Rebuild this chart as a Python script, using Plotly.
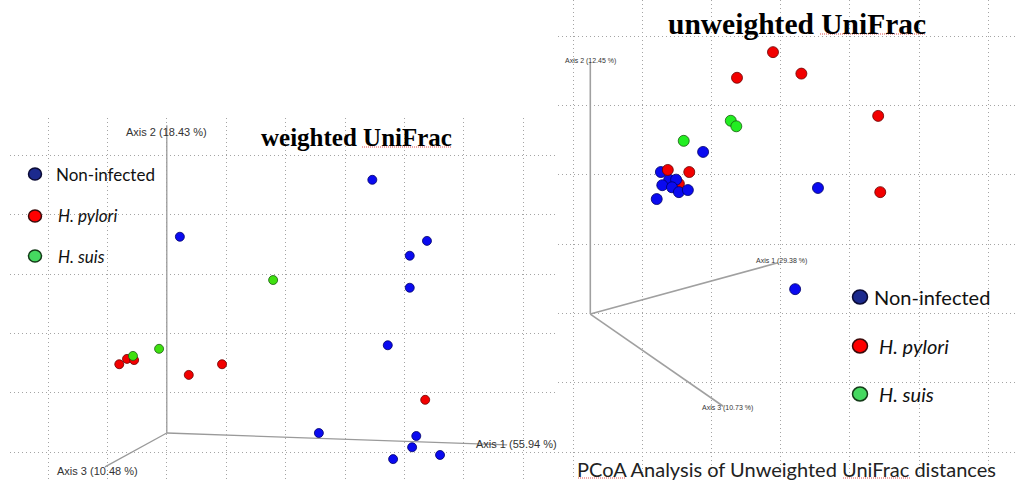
import plotly.graph_objects as go

W, H = 1016, 480

# ---------------- data (grid units of each panel) -------------
groups = ["Non-infected", "H. pylori", "H. suis"]

# weighted UniFrac (left panel)
w_blue_x = [5.46, 2.22, 6.38, 6.09, 6.09, 5.72, 4.56, 6.20, 6.13, 6.60, 5.81]
w_blue_y = [4.59, 3.63, 3.56, 3.31, 2.77, 1.80, 0.32, 0.27, 0.08, -0.05, -0.12]
w_red_x = [1.20, 1.33, 1.45, 2.37, 2.93, 6.35]
w_red_y = [1.48, 1.57, 1.55, 1.30, 1.48, 0.88]
w_green_x = [1.43, 1.87, 3.79]
w_green_y = [1.62, 1.74, 2.90]

# unweighted UniFrac (right panel)
u_blue_x = [1.88, 1.27, 1.39, 1.49, 1.29, 1.43, 1.53, 1.66, 1.21, 3.54, 3.21]
u_blue_y = [4.33, 4.04, 3.93, 3.93, 3.85, 3.82, 3.75, 3.78, 3.65, 3.81, 2.35]
u_red_back_x = [1.53]
u_red_back_y = [3.87]
u_red_x = [2.89, 2.37, 3.30, 4.41, 1.37, 1.68, 4.44]
u_red_y = [5.77, 5.40, 5.46, 4.85, 4.07, 4.04, 3.75]
u_green_x = [2.28, 2.36, 1.60]
u_green_y = [4.78, 4.70, 4.49]

# projected PCoA axes
w_axis_labels = ["Axis 1 (55.94 %)", "Axis 2 (18.43 %)", "Axis 3 (10.48 %)"]
w_origin = (2.00, 0.32)
w_axis_ends = [(7.73, 0.12), (2.00, 5.51), (0.96, -0.25)]
w_label_pos = [(7.88, 0.14), (2.00, 5.40), (0.83, -0.32)]

u_axis_labels = ["Axis 1 (29.38 %)", "Axis 2 (12.45 %)", "Axis 3 (10.73 %)"]
u_origin = (0.25, 1.99)
u_axis_ends = [(2.96, 2.73), (0.25, 5.63), (2.17, 0.66)]
u_label_pos = [(3.02, 2.76), (0.25, 5.64), (2.23, 0.64)]

titles = ["weighted UniFrac", "unweighted UniFrac"]
caption = "PCoA Analysis of Unweighted UniFrac distances"

# ---------------- styling -------------
C_BLUE, E_BLUE = "#0a0af0", "#00006a"
C_RED, E_RED = "#f20000", "#6a0000"
C_GREEN_L, C_GREEN_R, E_GREEN = "#3fe010", "#22ee22", "#1a5a10"
LEG = [("#1c2a8e", "#0b0b35"), ("#ff0000", "#3a0a0a"), ("#45d960", "#143a18")]


def px(x):
    return x / W


def py(y):
    return 1 - y / H


fig = go.Figure()


def pts(x, y, color, edge, size, xa, ya):
    fig.add_trace(go.Scatter(
        x=x, y=y, mode="markers", xaxis=xa, yaxis=ya, showlegend=False,
        hoverinfo="skip",
        marker=dict(size=size, color=color, line=dict(color=edge, width=0.8))))


def axes3d(origin, ends, labels, lpos, xa, ya, lw, fs, lc):
    for (ex, ey), lab, (lx, ly) in zip(ends, labels, lpos):
        fig.add_trace(go.Scatter(
            x=[origin[0], ex], y=[origin[1], ey], mode="lines", xaxis=xa, yaxis=ya,
            showlegend=False, hoverinfo="skip", line=dict(color=lc, width=lw)))
        fig.add_annotation(x=lx, y=ly, xref=xa, yref=ya, text=lab,
                           xanchor="center", yanchor="middle",
                           showarrow=False, font=dict(family="Liberation Sans", size=fs, color="#333333"))


# left panel
axes3d(w_origin, w_axis_ends, w_axis_labels, w_label_pos, "x", "y", 1.3, 11, "#9a9a9a")
pts(w_blue_x, w_blue_y, C_BLUE, E_BLUE, 9, "x", "y")
pts(w_red_x, w_red_y, C_RED, E_RED, 9, "x", "y")
pts(w_green_x, w_green_y, C_GREEN_L, E_GREEN, 9, "x", "y")

# right panel
axes3d(u_origin, u_axis_ends, u_axis_labels, u_label_pos, "x2", "y2", 1.6, 7, "#a0a0a0")
pts(u_red_back_x, u_red_back_y, C_RED, E_RED, 11, "x2", "y2")
pts(u_blue_x, u_blue_y, C_BLUE, E_BLUE, 11, "x2", "y2")
pts(u_red_x, u_red_y, C_RED, E_RED, 11, "x2", "y2")
pts(u_green_x, u_green_y, C_GREEN_R, E_GREEN, 11, "x2", "y2")


# legends (custom)
def legend(mx, ys, tx, size, fs):
    for i, (g, (c, e)) in enumerate(zip(groups, LEG)):
        fig.add_shape(type="circle", xref="paper", yref="paper", xsizemode="pixel",
                      ysizemode="pixel", xanchor=px(mx), yanchor=py(ys[i]),
                      x0=-size / 2, x1=size / 2, y0=-size / 2 * 0.92, y1=size / 2 * 0.92,
                      fillcolor=c, line=dict(color=e, width=1.5))
        txt = g if i == 0 else "<i>%s</i>" % g
        fig.add_annotation(x=px(tx[i]), y=py(ys[i]), xref="paper", yref="paper", text=txt,
                           xanchor="left", yanchor="middle", showarrow=False,
                           font=dict(family="Lato", size=fs, color="#111111"))


legend(35, [174, 216, 256], [54, 56, 56], 13, 17)
legend(860, [297, 346, 394], [872, 877, 877], 15, 20)

# titles and caption
fig.add_annotation(x=px(356), y=py(137), xref="paper", yref="paper", text="<b>%s</b>" % titles[0],
                   xanchor="center", yanchor="middle",
                   showarrow=False, font=dict(family="Liberation Serif", size=25, color="#000"))
fig.add_annotation(x=px(797), y=py(24), xref="paper", yref="paper", text="<b>%s</b>" % titles[1],
                   xanchor="center", yanchor="middle",
                   showarrow=False, font=dict(family="Liberation Serif", size=29.5, color="#000"))
fig.add_annotation(x=px(786), y=py(469), xref="paper", yref="paper", text=caption,
                   xanchor="center", yanchor="middle",
                   showarrow=False, font=dict(family="Lato", size=20, color="#222"))

# spell-check underlines seen in the picture
for x0, x1, yy in [(362, 452, 147), (820, 926, 34), (578, 625, 478), (843, 910, 478)]:
    fig.add_shape(type="line", xref="paper", yref="paper", x0=px(x0), x1=px(x1),
                  y0=py(yy), y1=py(yy), line=dict(color="#e05050", width=1, dash="1px,1px"))

grid = dict(showgrid=True, gridcolor="#a4a4a4", griddash="1px,3px", gridwidth=1,
            zeroline=False, showticklabels=False, ticks="", showline=False, dtick=1, tick0=0,
            fixedrange=True)

fig.update_layout(
    width=W, height=H, margin=dict(l=0, r=0, t=0, b=0),
    paper_bgcolor="white", plot_bgcolor="white",
    xaxis=dict(domain=[px(10), px(558)], range=[(10 - 48) / 59.4, (558 - 48) / 59.4], **grid),
    yaxis=dict(domain=[0, py(118)], range=[(452 - 480) / 59.3, (452 - 118) / 59.3], **grid),
    xaxis2=dict(domain=[px(558), 1], range=[(558 - 573) / 69.2, (1016 - 573) / 69.2], anchor="y2", **grid),
    yaxis2=dict(domain=[0, 1], range=[(452 - 480) / 69.3, 452 / 69.3], anchor="x2", **grid),
)

fig.write_html("out.html", config={"displayModeBar": False},
               post_script="document.body.style.margin='0';document.body.style.overflow='hidden';")
